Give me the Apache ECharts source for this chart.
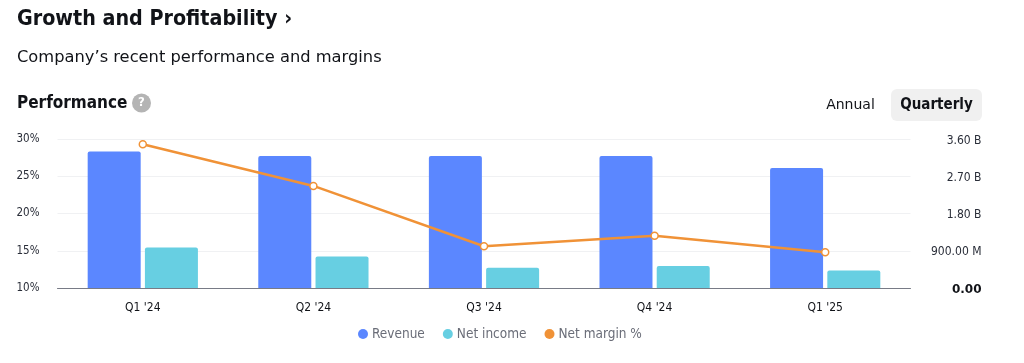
<!DOCTYPE html>
<html><head><meta charset="utf-8">
<style>html,body{margin:0;padding:0;background:#fff}#c{width:1024px;height:363px}</style>
<script src="https://cdn.jsdelivr.net/npm/echarts@6/dist/echarts.min.js"></script>
</head><body><div id="c"></div>
<script>
const categories = ["Q1 '24","Q2 '24","Q3 '24","Q4 '24","Q1 '25"];
const revenue = [3.30e9,3.19e9,3.19e9,3.19e9,2.90e9];
const netIncome = [0.98e9,0.76e9,0.49e9,0.53e9,0.42e9];
const netMargin = [29.3,23.7,15.6,17.0,14.8];
const rightTickLabels = {0:"0.00",900000000:"900.00 M",1800000000:"1.80 B",2700000000:"2.70 B",3600000000:"3.60 B"};
const F = '"DejaVu Sans Condensed","DejaVu Sans",sans-serif';
const R = '"DejaVu Sans",sans-serif';
const INK = '#111318';
const chart = echarts.init(document.getElementById('c'),null,{renderer:'canvas'});
chart.setOption({
  animation:false,
  backgroundColor:'#fff',
  textStyle:{fontFamily:F},
  grid:{left:57.5,right:113.5,top:139,bottom:75},
  legend:{
    top:327,left:358,icon:'circle',itemWidth:10,itemHeight:10,itemGap:18,padding:0,
    textStyle:{fontFamily:F,fontSize:13.5,color:'#6a6d78',padding:[0,0,0,-1]},
    data:[
      {name:'Revenue',itemStyle:{color:'#5b87ff'}},
      {name:'Net income',itemStyle:{color:'#67cfe2'}},
      {name:'Net margin %',itemStyle:{color:'#f09237',borderWidth:0}}
    ]
  },
  xAxis:{type:'category',data:categories,
    axisLine:{lineStyle:{color:'#787b86',width:1}},axisTick:{show:false},
    axisLabel:{fontFamily:F,fontSize:12,color:INK,margin:14}},
  yAxis:[
    {type:'value',min:10,max:30,interval:5,position:'left',
     axisLine:{show:false},axisTick:{show:false},
     axisLabel:{fontFamily:F,fontSize:11.5,color:'#2a2e39',margin:18,padding:[6,0,0,0],formatter:v=>v+'%'},
     splitLine:{lineStyle:{color:'#f0f1f3',width:1}}},
    {type:'value',min:0,max:3600000000,interval:900000000,position:'right',
     axisLine:{show:false},axisTick:{show:false},splitLine:{show:false},
     axisLabel:{fontFamily:F,fontSize:12,color:'#2a2e39',margin:71,align:'right',padding:[3,0,0,0],
       formatter:v=>v===0?'{b|'+rightTickLabels[v]+'}':rightTickLabels[v],
       rich:{b:{fontFamily:R,fontSize:12,fontWeight:'bold',color:INK}}}}
  ],
  series:[
    {name:'Revenue',type:'bar',yAxisIndex:1,data:revenue,barWidth:53,barGap:'8%',
     itemStyle:{color:'#5b87ff',borderRadius:[2,2,0,0]}},
    {name:'Net income',type:'bar',yAxisIndex:1,data:netIncome,barWidth:53,barGap:'8%',
     itemStyle:{color:'#67cfe2',borderRadius:[2,2,0,0]}},
    {name:'Net margin %',type:'line',yAxisIndex:0,data:netMargin,symbol:'circle',symbolSize:7,
     lineStyle:{color:'#f09237',width:2.5},
     itemStyle:{color:'#fff',borderColor:'#f09237',borderWidth:1.5}}
  ],
  graphic:[
    {type:'text',left:17,top:9,style:{text:'Growth and Profitability ›',font:'bold 21.3px '+F,fill:INK}},
    {type:'text',left:17,top:50,style:{text:'Company’s recent performance and margins',font:'16.3px '+R,fill:INK}},
    {type:'text',left:17,top:95,style:{text:'Performance',font:'bold 17px '+F,fill:INK}},
    {type:'circle',shape:{cx:141.5,cy:103,r:9.5},style:{fill:'#b4b4b4'}},
    {type:'text',x:141.5,y:103,style:{text:'?',font:'bold 13px '+F,fill:'#fff',align:'center',verticalAlign:'middle'}},
    {type:'rect',shape:{x:891,y:89,width:91,height:32,r:6},style:{fill:'#f0f0f0'}},
    {type:'text',x:850.5,y:105,style:{text:'Annual',font:'14px '+R,fill:INK,align:'center',verticalAlign:'middle'}},
    {type:'text',x:936.5,y:105,style:{text:'Quarterly',font:'bold 15px '+F,fill:INK,align:'center',verticalAlign:'middle'}}
  ]
});
</script></body></html>
